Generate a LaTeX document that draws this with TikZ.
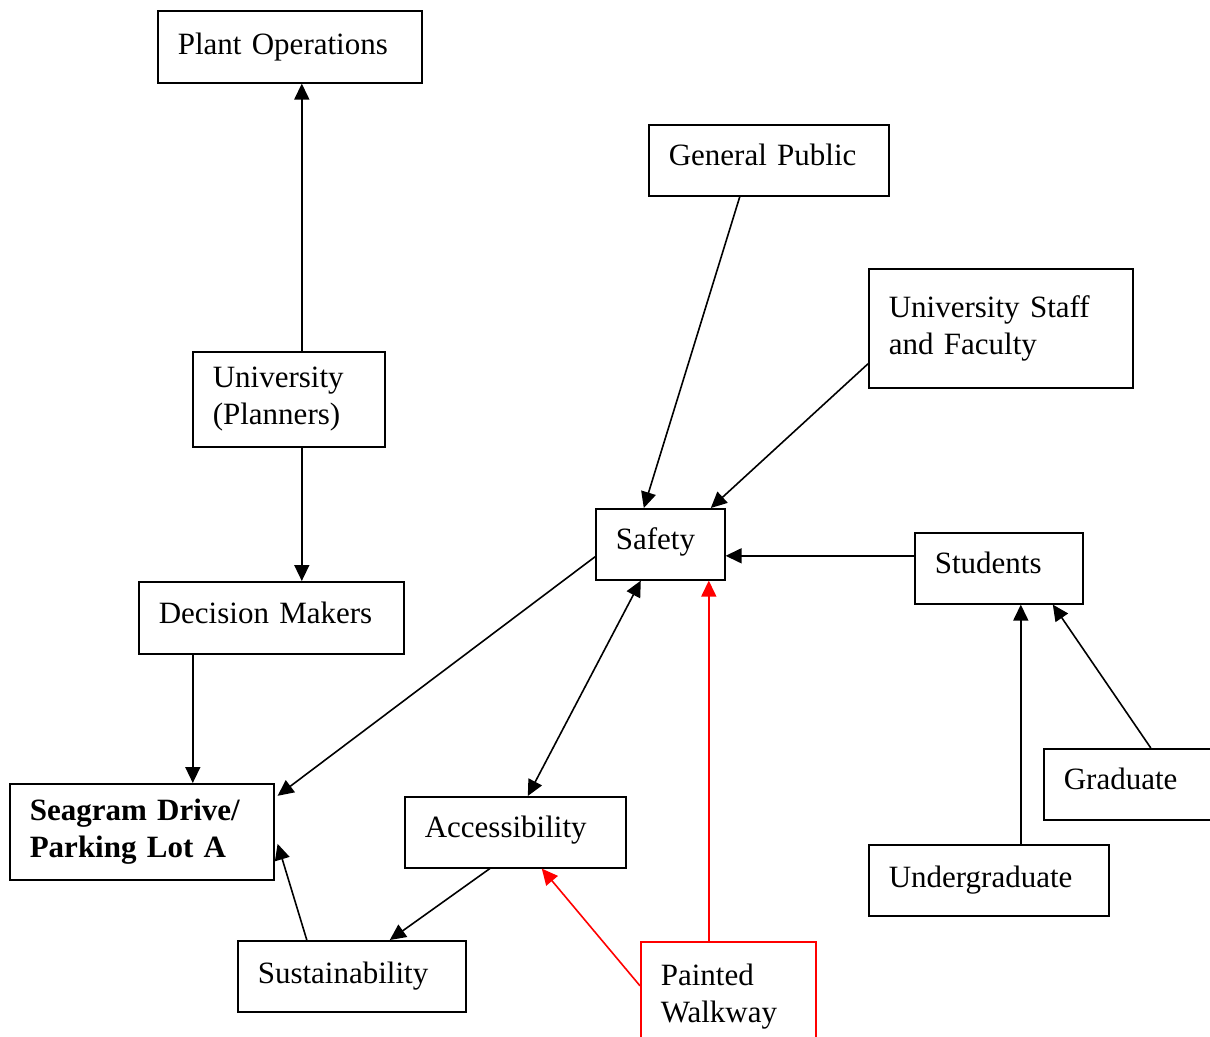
\documentclass[tikz,border=0pt]{standalone}
\usepackage{fontspec}
\setmainfont{Liberation Serif}
\usetikzlibrary{arrows.meta}

\tikzset{
  box/.style={draw, line width=1.6pt, anchor=north west, inner xsep=20pt,
    align=left, font=\fontsize{31}{37}\selectfont},
  redbox/.style={box, draw=red},
  link/.style={->, line width=1.6pt},
  redlink/.style={link, red}
}

\begin{document}
\begin{tikzpicture}[x=1pt, y=-1pt, >={Triangle[length=16pt,width=15pt]}]
  \clip (0,0) rectangle (1210,1036);
  \fill[white] (0,0) rectangle (1210,1036);
  % boxes
  \node[box, text width=224pt, minimum height=72pt] (plant) at (157,10) {Plant Operations};
  \node[box, text width=200pt, minimum height=71pt, text depth=11pt] (public) at (648,124) {General Public};
  \node[box, text width=224pt, minimum height=119pt] (staff) at (868,268) {University Staff\\and Faculty\\[-18pt]};
  \node[box, text width=152pt, minimum height=95pt] (planners) at (192,351) {University\\(Planners)};
  \node[box, text width=89pt, minimum height=71pt, text depth=11pt] (safety) at (595,508) {Safety};
  \node[box, text width=128pt, minimum height=71pt, text depth=11pt] (students) at (914,532) {Students};
  \node[box, text width=225pt, minimum height=72pt, text depth=11pt] (makers) at (138,581) {Decision Makers};
  \node[box, text width=224pt, minimum height=96pt, font=\fontsize{31}{37}\selectfont\bfseries] (seagram) at (9,783) {Seagram Drive/\\Parking Lot A};
  \node[box, text width=181pt, minimum height=71pt, text depth=11pt] (access) at (404,796) {Accessibility};
  \node[box, text width=140pt, minimum height=71pt, text depth=11pt] (grad) at (1043,748) {Graduate};
  \node[box, text width=200pt, minimum height=71pt] (under) at (868,844) {Undergraduate};
  \node[box, text width=188pt, minimum height=71pt] (sustain) at (237,940) {Sustainability};
  \node[redbox, text width=135pt, minimum height=110pt] (walkway) at (640,941) {Painted\\Walkway};
  % planners
  \draw[link] ([xshift=13pt]planners.north) -- ([xshift=12pt]plant.south);
  \draw[link] ([xshift=13pt]planners.south) -- ([xshift=30.5pt]makers.north);
  \draw[link] ([xshift=-78.5pt]makers.south) -- ([xshift=51pt]seagram.north);
  % into safety
  \draw[link] ([xshift=-29pt]public.south) -- ([xshift=-16.5pt]safety.north);
  \draw[link] ([yshift=-35.5pt]staff.west) -- ([xshift=50.5pt]safety.north);
  \draw[link] ([yshift=12.5pt]students.west) -- ([yshift=-11.5pt]safety.east);
  % students
  \draw[link] ([xshift=32pt]under.north) -- ([xshift=22pt]students.south);
  \draw[link] ([xshift=17pt]grad.north) -- ([xshift=54pt]students.south);
  % out of safety
  \draw[link] ([yshift=-12.5pt]safety.west) -- ([xshift=3pt,yshift=36pt]seagram.east);
  \draw[link, <->] ([xshift=-19.5pt]safety.south) -- ([xshift=12.5pt]access.north);
  \draw[link] ([xshift=-25.5pt]access.south) -- ([xshift=38pt]sustain.north);
  \draw[link] ([xshift=-45pt]sustain.north) -- ([xshift=3pt,yshift=-12pt]seagram.east);
  % painted walkway
  \draw[redlink] ([xshift=-19.5pt]walkway.north) -- ([xshift=48.5pt]safety.south);
  \draw[redlink] ([yshift=11pt]walkway.west) -- ([xshift=26.5pt]access.south);
\end{tikzpicture}
\end{document}
